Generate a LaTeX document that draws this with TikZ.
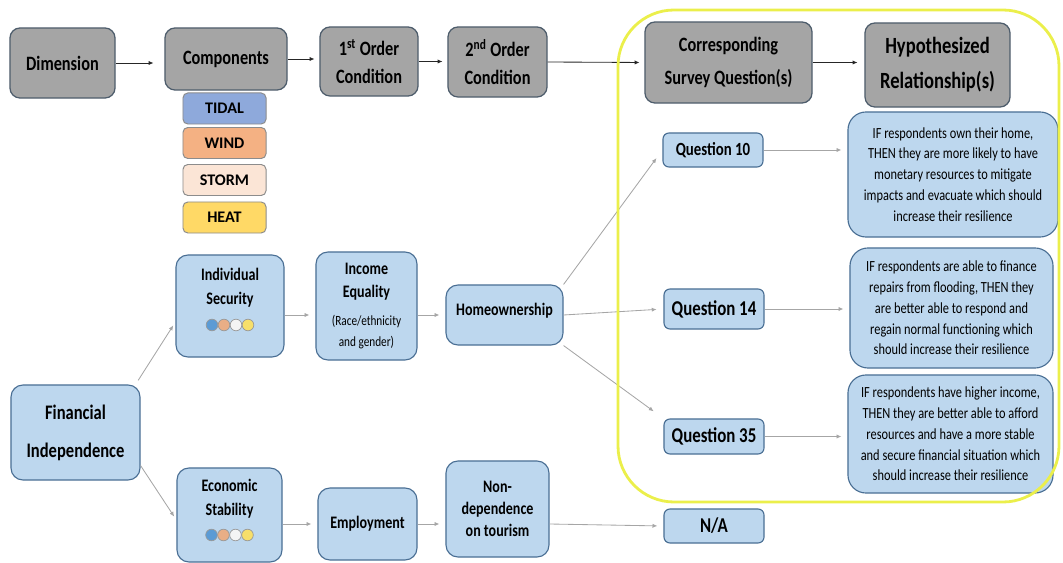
\documentclass[tikz,border=0pt]{standalone}
\usepackage{fontspec}
\setmainfont{Carlito}[FakeStretch=0.8]
\newfontfamily\chipfont{Carlito}
\usetikzlibrary{arrows.meta,calc,positioning}
\definecolor{headGray}{HTML}{A5A5A5}
\definecolor{headEdge}{HTML}{4E5D6C}
\definecolor{boxBlue}{HTML}{BDD7EE}
\definecolor{boxEdge}{HTML}{4A6F94}
\definecolor{colTidal}{HTML}{8EA9DB}
\definecolor{colWind}{HTML}{F4B183}
\definecolor{colStorm}{HTML}{FBE5D6}
\definecolor{colHeat}{HTML}{FFD966}
\definecolor{dotBlue}{HTML}{5B9BD5}
\definecolor{dotOrange}{HTML}{E9AE86}
\definecolor{dotWhite}{HTML}{F4F4F4}
\definecolor{dotYellow}{HTML}{F7DF6A}
\definecolor{frameYellow}{HTML}{EBEF4B}
\colorlet{colorHA}{black!85}
\colorlet{colorBA}{gray!70}
\tikzset{
   every path/.style={>={Latex[length=3.5pt,width=3pt]}},
   hdr/.style={draw=headEdge,fill=headGray,line width=0.9pt,rounded corners=0.25cm,align=center,inner sep=2pt,font=\bfseries\fontsize{14.5}{20}\selectfont},
   chip/.style={draw=black!45,line width=0.7pt,rounded corners=0.12cm,minimum width=2.075cm,minimum height=0.775cm,inner sep=0pt,font=\chipfont\bfseries\fontsize{11.5}{13}\selectfont},
   bbox/.style={draw=boxEdge,fill=boxBlue,line width=0.8pt,rounded corners=0.3cm,align=center,inner sep=2pt,font=\bfseries\fontsize{12.5}{17}\selectfont},
   btxt/.style={align=center,inner sep=0pt,font=\bfseries\fontsize{12.5}{17}\selectfont},
   qbox/.style={bbox,rounded corners=0.15cm,minimum width=2.5cm,font=\bfseries\fontsize{15}{18}\selectfont},
   hbox/.style={bbox,rounded corners=0.45cm,font=\fontsize{11}{14.8}\selectfont},
   hazdot/.style={circle,draw=black!40,line width=0.5pt,minimum size=0.29cm,inner sep=0pt},
   ha/.style={->,draw=colorHA,line width=0.6pt,shorten >=0.12cm},
   ba/.style={->,draw=colorBA,line width=0.6pt,shorten >=0.15cm},
}
\newcommand{\subtxt}[1]{{\mdseries\fontsize{10}{15}\selectfont #1}}

\begin{document}
\begin{tikzpicture}[x=0.025cm,y=-0.025cm]
\useasboundingbox (0,0) rectangle (1063,563);

% =========================================================
% header row
% =========================================================

\node[hdr,minimum width=2.625cm,minimum height=1.75cm] (dim) at (62.5,63) {Dimension};
\node[hdr,minimum width=3.05cm,minimum height=1.55cm] (comp) at (226,59) {Components};
\node[hdr,minimum width=2.45cm,minimum height=1.725cm] (first) at (369,61.5) {1\textsuperscript{st} Order\\Condition};
\node[hdr,minimum width=2.475cm,minimum height=1.75cm] (second) at (497.5,62) {2\textsuperscript{nd} Order\\Condition};
\node[hdr,minimum width=4.175cm,minimum height=2.025cm,font=\bfseries\fontsize{14.5}{23.5}\selectfont] (corr) at (728.5,62.5) {Corresponding\\Survey Question(s)};
\node[hdr,minimum width=3.625cm,minimum height=2.1cm,font=\bfseries\fontsize{16.5}{25}\selectfont] (hyp) at (937.5,65) {Hypothesized\\Relationship(s)};

\draw[ha,shorten >=0.27cm] (dim.east) -- (comp.west |- dim.east);
\draw[ha] (comp.east) -- (first.west |- comp.east);
\draw[ha] (first.east) -- (second.west |- first.east);
\draw[ha] (second.east) -- (corr.west);
\draw[ha,shorten >=0.17cm] (corr.east) -- (hyp.west |- corr.east);

% hazards
\node[chip,fill=colTidal] (tidal) at (224.5,108.5) {TIDAL};
\node[chip,fill=colWind] (wind) at (224.5,143) {WIND};
\node[chip,fill=colStorm] (storm) at (224.5,180) {STORM};
\node[chip,fill=colHeat] (heat) at (224.5,217.5) {HEAT};

% =========================================================
% dimension and components
% =========================================================

\node[bbox,minimum width=3.225cm,minimum height=2.375cm,font=\bfseries\fontsize{14.7}{27}\selectfont] (fi) at (75.5,432.5) {Financial\\Independence};

\node[bbox,minimum width=2.7cm,minimum height=2.55cm] (is) at (230,306) {};
\node[btxt] (istxt) at ($(is)+(0,-18)$) {Individual\\Security};
\foreach \c [count=\i] in {dotBlue,dotOrange,dotWhite,dotYellow}
  \node[hazdot,fill=\c] (isdot\i) at ($(is)+(-30+12*\i,19)$) {};

\node[bbox,minimum width=2.625cm,minimum height=2.35cm] (es) at (229.5,515) {};
\node[btxt] (estxt) at ($(es)+(0,-16.5)$) {Economic\\Stability};
\foreach \c [count=\i] in {dotBlue,dotOrange,dotWhite,dotYellow}
  \node[hazdot,fill=\c] (esdot\i) at ($(es)+(-30+12*\i,20)$) {};

% 1st and 2nd order conditions
\node[bbox,minimum width=2.525cm,minimum height=2.7cm,font=\bfseries\fontsize{12.5}{16.4}\selectfont] (ie) at (366.5,306)
{Income\\Equality\\[4pt]\subtxt{(Race/ethnicity}\\[-1.5pt]\subtxt{and gender)}};
\node[bbox,minimum width=2.925cm,minimum height=1.5cm,text depth=0.3cm] (home) at (504.5,315) {Homeownership};

\node[bbox,minimum width=2.475cm,minimum height=1.8cm] (emp) at (367.5,524) {Employment};
\node[bbox,minimum width=2.575cm,minimum height=2.4cm,font=\bfseries\fontsize{12.5}{15.6}\selectfont] (nondep) at (497.5,509) {Non-\\dependence\\on tourism};

\draw[ba,shorten <=0.12cm,shorten >=0.1cm] ($(fi.north east)+(-5,0)$) -- ($(is.west)+(0,16)$);
\draw[ba,shorten >=0.1cm] ($(fi.south east)+(0,-15)$) -- ($(es.west)+(0,5)$);
\draw[ba] (is.east |- home.west) -- (ie.west |- home.west);
\draw[ba] (ie.east |- home.west) -- (home.west);
\draw[ba] (es.east |- emp.west) -- (emp.west);
\draw[ba] (emp.east) -- (nondep.west |- emp.east);

% =========================================================
% survey questions
% =========================================================

\node[qbox,minimum height=0.85cm,font=\bfseries\fontsize{13.2}{16}\selectfont] (q10) at (713,150) {Question 10};
\node[qbox,minimum height=1.0cm] (q14) at (714,309) {Question 14};
\node[qbox,minimum height=0.875cm] (q35) at (714,436.5) {Question 35};
\node[qbox,minimum height=0.85cm] (na) at (714,526) {N/A};

\draw[ba,shorten >=0.25cm] (home.north east) -- (q10.west);
\draw[ba,shorten >=0.17cm] (home.east) -- (q14.west);
\draw[ba,shorten >=0.3cm] (home.south east) -- (q35.north west);
\draw[ba] (nondep.east |- emp.east) -- (na.west);

% =========================================================
% hypothesized relationships
% =========================================================

\node[hbox,minimum width=5.25cm,minimum height=3.125cm] (hyp1) at (953,174.5)
{IF respondents own their home,\\THEN they are more likely to have\\monetary resources to mitigate\\impacts and evacuate which should\\increase their resilience};
\node[hbox,minimum width=5.075cm,minimum height=3.0cm] (hyp2) at (951.5,308)
{IF respondents are able to finance\\repairs from flooding, THEN they\\are better able to respond and\\regain normal functioning which\\should increase their resilience};
\node[hbox,minimum width=5.125cm,minimum height=2.95cm] (hyp3) at (950.5,434)
{IF respondents have higher income,\\THEN they are better able to afford\\resources and have a more stable\\and secure financial situation which\\should increase their resilience};

\draw[ba] (q10.east) -- (hyp1.west |- q10.east);
\draw[ba] (q14.east) -- (hyp2.west |- q14.east);
\draw[ba] (q35.east) -- (hyp3.west |- q35.east);

% highlight
\draw[frameYellow,line width=2pt,rounded corners=1.4cm] (618,10) rectangle (1059,502);

\end{tikzpicture}
\end{document}
